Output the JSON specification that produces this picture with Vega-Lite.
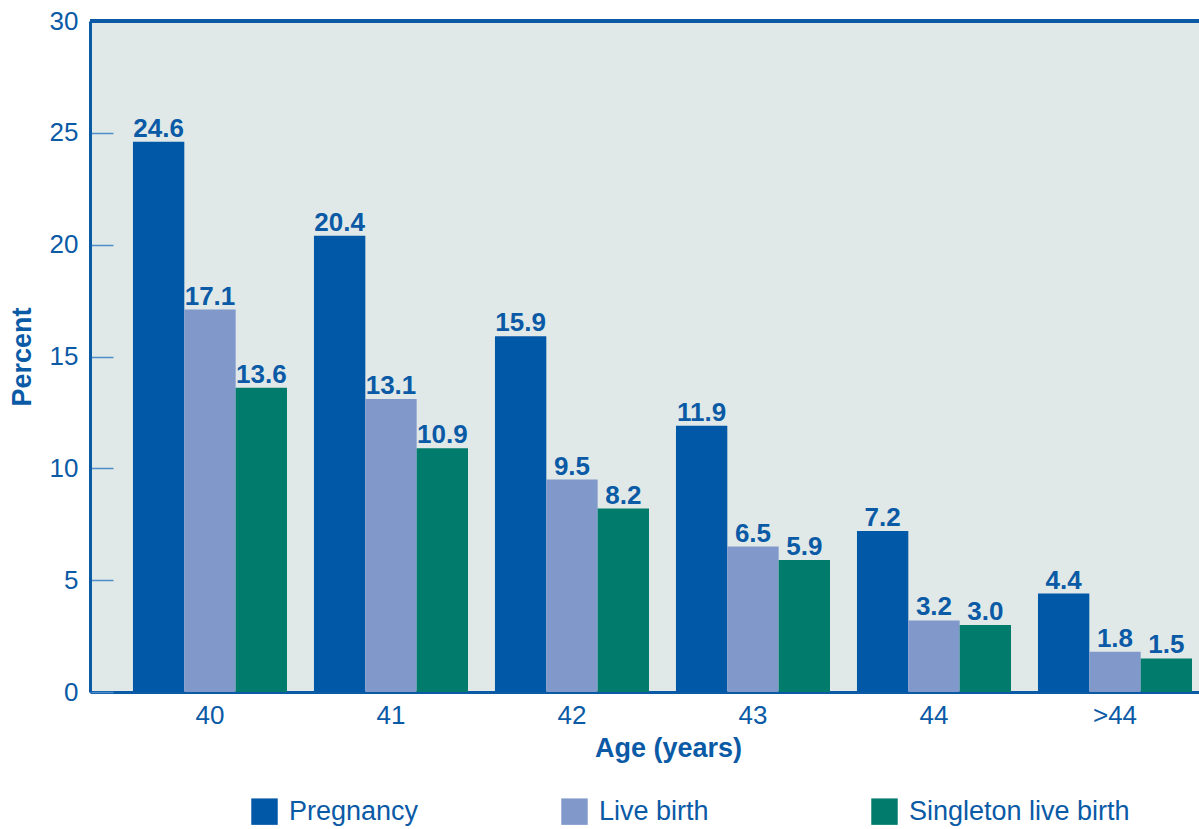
{
  "$schema": "https://vega.github.io/schema/vega-lite/v6.json",
  "width": 1109,
  "height": 671,
  "autosize": {"type": "none"},
  "padding": {"left": 90, "top": 21, "right": 0, "bottom": 137},
  "background": "white",
  "config": {
    "font": "Liberation Sans",
    "view": {"fill": "#e0e9e7", "stroke": null}
  },
  "data": {
    "values": [
      {"age": "40", "measure": "Pregnancy", "pct": 24.6},
      {"age": "40", "measure": "Live birth", "pct": 17.1},
      {"age": "40", "measure": "Singleton live birth", "pct": 13.6},
      {"age": "41", "measure": "Pregnancy", "pct": 20.4},
      {"age": "41", "measure": "Live birth", "pct": 13.1},
      {"age": "41", "measure": "Singleton live birth", "pct": 10.9},
      {"age": "42", "measure": "Pregnancy", "pct": 15.9},
      {"age": "42", "measure": "Live birth", "pct": 9.5},
      {"age": "42", "measure": "Singleton live birth", "pct": 8.2},
      {"age": "43", "measure": "Pregnancy", "pct": 11.9},
      {"age": "43", "measure": "Live birth", "pct": 6.5},
      {"age": "43", "measure": "Singleton live birth", "pct": 5.9},
      {"age": "44", "measure": "Pregnancy", "pct": 7.2},
      {"age": "44", "measure": "Live birth", "pct": 3.2},
      {"age": "44", "measure": "Singleton live birth", "pct": 3.0},
      {"age": ">44", "measure": "Pregnancy", "pct": 4.4},
      {"age": ">44", "measure": "Live birth", "pct": 1.8},
      {"age": ">44", "measure": "Singleton live birth", "pct": 1.5}
    ]
  },
  "encoding": {
    "x": {
      "field": "age",
      "type": "nominal",
      "sort": ["40", "41", "42", "43", "44", ">44"],
      "scale": {"paddingInner": 0.149, "paddingOuter": 0.138, "align": 0.86},
      "axis": {
        "title": "Age (years)",
        "titleFontSize": 27,
        "titleFontWeight": "bold",
        "titleColor": "#0a5aa6",
        "titlePadding": 7,
        "titleX": 578,
        "titleAlign": "center",
        "labelAngle": 0,
        "labelFontSize": 26,
        "labelColor": "#0a5aa6",
        "labelPadding": 10,
        "ticks": false,
        "domainColor": "#0a5aa6",
        "domainWidth": 3
      }
    },
    "xOffset": {
      "field": "measure",
      "type": "nominal",
      "sort": ["Pregnancy", "Live birth", "Singleton live birth"],
      "scale": {"paddingInner": 0, "paddingOuter": 0}
    },
    "y": {
      "field": "pct",
      "type": "quantitative",
      "scale": {"domain": [0, 30], "nice": false},
      "axis": {
        "title": "Percent",
        "titleFontSize": 27,
        "titleFontWeight": "bold",
        "titleColor": "#0a5aa6",
        "titlePadding": 13,
        "values": [0, 5, 10, 15, 20, 25, 30],
        "labelFontSize": 26,
        "labelColor": "#0a5aa6",
        "tickSize": -23,
        "tickColor": "#4f8cc9",
        "tickWidth": 1.5,
        "labelPadding": 35,
        "domainColor": "#0a5aa6",
        "domainWidth": 3,
        "grid": false
      }
    }
  },
  "layer": [
    {
      "mark": {"type": "bar"},
      "encoding": {
        "color": {
          "field": "measure",
          "type": "nominal",
          "scale": {
            "domain": ["Pregnancy", "Live birth", "Singleton live birth"],
            "range": ["#0058a7", "#8198cb", "#007b6c"]
          },
          "legend": {
            "title": null,
            "orient": "none",
            "legendX": 161,
            "legendY": 777,
            "direction": "horizontal",
            "columns": 3,
            "gridAlign": "all",
            "columnPadding": 51,
            "symbolType": "square",
            "symbolSize": 700,
            "symbolStrokeWidth": 0,
            "symbolOpacity": 1,
            "labelFontSize": 27,
            "labelColor": "#0a5aa6",
            "labelOffset": 11,
            "labelLimit": 400,
            "padding": 0
          }
        }
      }
    },
    {
      "mark": {
        "type": "text",
        "baseline": "alphabetic",
        "dy": -5,
        "fontSize": 26,
        "fontWeight": "bold",
        "color": "#0a5aa6"
      },
      "encoding": {
        "text": {"field": "pct", "type": "quantitative", "format": ".1f"}
      }
    },
    {
      "mark": {"type": "rule", "color": "#0a5aa6", "strokeWidth": 3},
      "encoding": {
        "x": null,
        "xOffset": null,
        "y": {"datum": 30}
      }
    }
  ]
}
